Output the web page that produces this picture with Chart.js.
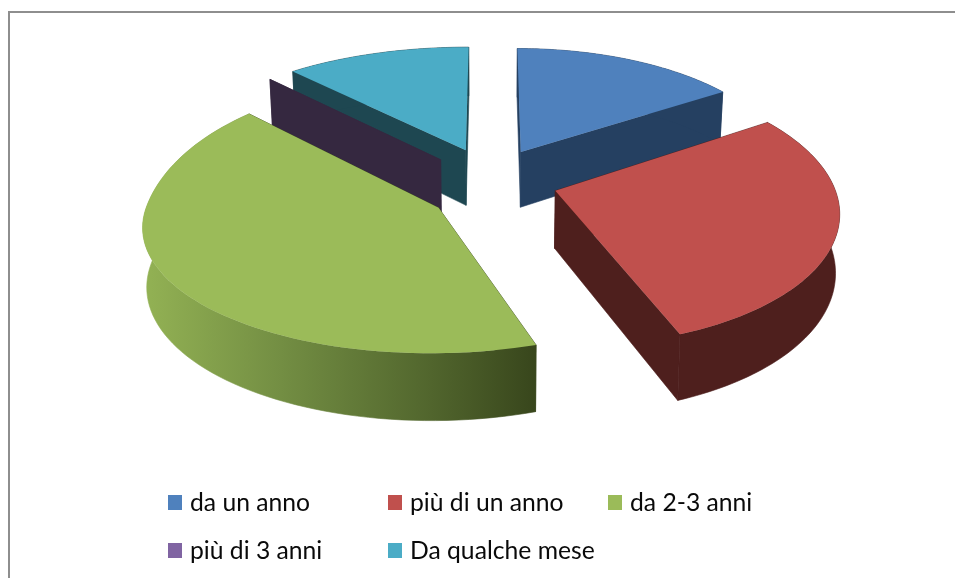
<!DOCTYPE html>
<html>
<head>
<meta charset="utf-8">
<style>html,body{margin:0;padding:0;background:#fff}canvas{display:block}</style>
<script src="https://cdn.jsdelivr.net/npm/chart.js@4"></script>
</head>
<body>
<canvas id="c" width="955" height="578"></canvas>
<script>
const categories = ['da un anno', 'più di un anno', 'da 2-3 anni', 'più di 3 anni', 'Da qualche mese'];
const values = [15.7, 28.5, 44.1, 0, 11.7];
const topColors = ['#4F81BD', '#C0504D', '#9BBB59', '#8064A2', '#4BACC6'];
const wallColors = ['#254061', '#4E1F1D', '#3D4C20', '#352840', '#1E4751'];
const drawOrder = [4, 3, 0, 2, 1];

const view = {cx: 491, cy: 183, a: 285, b: 125, persp: 0.133, depth: 57, converge: 0.012};
const explodeX = [0.228, 0.235, 0.21, 0.27, 0.255];
const explodeY = [0.29, 0.2, 0.37, 0.257, 0.29];
const stretchX = [0.95, 0.975, 1, 1.03, 1.04];
const stretchY = [1, 1.05, 0.96, 1, 1];
const backX = [0, 0, 0.18, 0, 0];
const backY = [0, 0, 0.2, 0, 0];
const startTrim = [0, 0, 0.045, 0, 0];

function project(u, v, z) {
  const w = 1 - view.persp * v;
  const x = view.a * u / w * (1 - view.converge * z);
  return [view.cx + x, view.cy + view.b * v / w + view.depth * z / w];
}

function slicePoint(i, el, angle, r, z) {
  const mid = (el.startAngle + el.endAngle) / 2;
  const s = Math.max(0, -Math.sin(angle));
  const back = s * s;
  const u = explodeX[i] * Math.cos(mid) + stretchX[i] * (1 + backX[i] * back) * r * Math.cos(angle);
  const v = explodeY[i] * Math.sin(mid) + stretchY[i] * (1 + backY[i] * back) * r * Math.sin(angle);
  return project(u, v, z);
}

function poly(ctx, pts, fill, sealed) {
  ctx.beginPath();
  pts.forEach((p, k) => k ? ctx.lineTo(p[0], p[1]) : ctx.moveTo(p[0], p[1]));
  ctx.closePath();
  ctx.fillStyle = fill;
  ctx.fill();
  if (sealed) {
    ctx.strokeStyle = fill;
    ctx.lineWidth = 0.6;
    ctx.stroke();
  }
}

function arcPoints(i, el, z) {
  const pts = [];
  const n = 80;
  const s = el.startAngle + startTrim[i];
  for (let k = 0; k <= n; k++) {
    pts.push(slicePoint(i, el, s + (el.endAngle - s) * k / n, 1, z));
  }
  return pts;
}

const pie3d = {
  id: 'pie3d',
  beforeDatasetDraw(chart, args) {
    const ctx = chart.ctx;
    const meta = chart.getDatasetMeta(args.index);
    ctx.save();
    drawOrder.forEach(i => {
      const el = meta.data[i];
      const wall = wallColors[i];
      [el.startAngle + startTrim[i], el.endAngle].forEach(ang => {
        poly(ctx, [slicePoint(i, el, ang, 0, 0), slicePoint(i, el, ang, 1, 0), slicePoint(i, el, ang, 1, 1), slicePoint(i, el, ang, 0, 1)], wall, true);
      });
      if (el.endAngle > el.startAngle) {
        let rim = wall;
        if (i === 2) {
          rim = ctx.createLinearGradient(143, 0, 536, 0);
          rim.addColorStop(0, '#93B254');
          rim.addColorStop(0.35, '#738E43');
          rim.addColorStop(0.7, '#54692F');
          rim.addColorStop(1, '#38461C');
        }
        const top = arcPoints(i, el, 0);
        const bot = arcPoints(i, el, 1).reverse();
        poly(ctx, top.concat(bot), rim, true);
        poly(ctx, [slicePoint(i, el, el.startAngle, 0, 0)].concat(top), topColors[i], false);
      }
    });
    ctx.restore();
    return false;
  },
  afterDraw(chart) {
    const ctx = chart.ctx;
    ctx.save();
    ctx.fillStyle = '#8E8E8E';
    ctx.fillRect(8, 11, 947, 2);
    ctx.fillRect(8, 11, 2, 567);
    const cols = [168, 388, 608];
    const rows = [503, 551];
    ctx.font = '24.7px Lato';
    ctx.textBaseline = 'middle';
    chart.data.labels.forEach((t, i) => {
      const x = cols[i % 3], y = rows[Math.floor(i / 3)];
      ctx.fillStyle = topColors[i];
      ctx.fillRect(x, y - 8, 14, 15);
      ctx.fillStyle = '#0A0A0A';
      ctx.fillText(t, x + 22, y);
    });
    ctx.restore();
  }
};

new Chart(document.getElementById('c'), {
  type: 'pie',
  data: {labels: categories, datasets: [{data: values, backgroundColor: topColors, borderWidth: 0}]},
  options: {
    responsive: false,
    animation: false,
    plugins: {legend: {display: false}, tooltip: {enabled: false}}
  },
  plugins: [pie3d]
});
</script>
</body>
</html>
